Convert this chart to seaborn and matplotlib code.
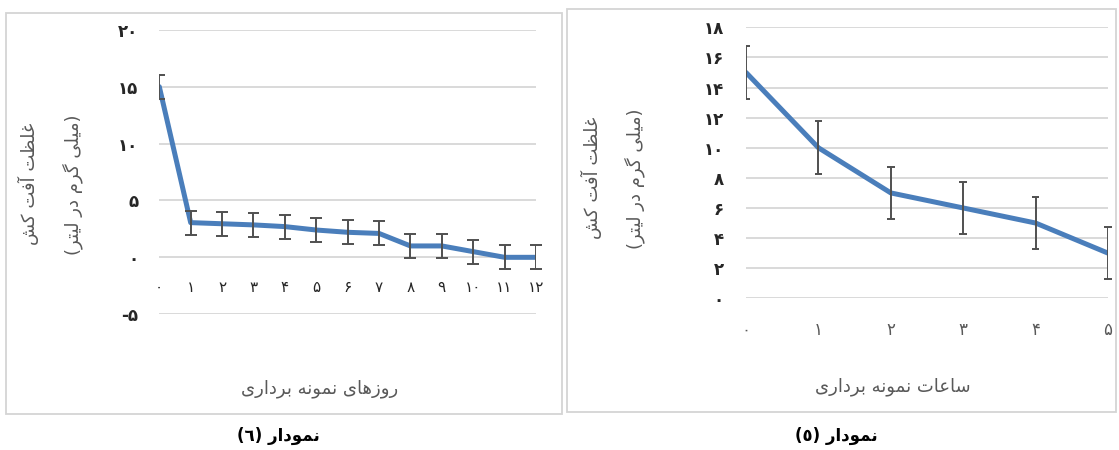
import matplotlib
matplotlib.use("Agg")
import matplotlib.pyplot as plt
import seaborn as sns
from matplotlib.patches import Rectangle

# ---------------- data ----------------
days = [0, 1, 2, 3, 4, 5, 6, 7, 8, 9, 10, 11, 12]
day_labels = ["۰", "۱", "۲", "۳", "۴", "۵", "۶", "۷", "۸", "۹", "۱۰", "۱۱", "۱۲"]
conc_days = [15.0, 3.05, 2.95, 2.85, 2.7, 2.4, 2.2, 2.1, 1.0, 1.0, 0.5, 0.0, 0.0]
err_days = [1.05, 1.05, 1.05, 1.05, 1.05, 1.05, 1.05, 1.05, 1.05, 1.05, 1.05, 1.05, 1.05]
days_yticks = [-5, 0, 5, 10, 15, 20]
days_ylabels = ["-۵", "۰", "۵", "۱۰", "۱۵", "۲۰"]

hours = [0, 1, 2, 3, 4, 5]
hour_labels = ["۰", "۱", "۲", "۳", "۴", "۵"]
conc_hours = [15.0, 10.0, 7.0, 6.0, 5.0, 3.0]
err_hours = [1.75, 1.75, 1.75, 1.75, 1.75, 1.75]
hours_yticks = [0, 2, 4, 6, 8, 10, 12, 14, 16, 18]
hours_ylabels = ["۰", "۲", "۴", "۶", "۸", "۱۰", "۱۲", "۱۴", "۱۶", "۱۸"]

ylabel_line1 = "غلظت آفت کش"
ylabel_line2 = "(میلی گرم در لیتر)"
xlabel_days = "روزهای نمونه برداری"
xlabel_hours = "ساعات نمونه برداری"
caption_days = "نمودار (٦)"
caption_hours = "نمودار (٥)"

# ---------------- Persian shaping (matplotlib draws glyphs left to right) ----------------
# forms: isolated, final, initial, medial (None for letters that join only to the right)
FORMS = {
    "ا": ("\uFE8D", "\uFE8E", None, None),
    "آ": ("\uFE81", "\uFE82", None, None),
    "ب": ("\uFE8F", "\uFE90", "\uFE91", "\uFE92"),
    "پ": ("\uFB56", "\uFB57", "\uFB58", "\uFB59"),
    "ت": ("\uFE95", "\uFE96", "\uFE97", "\uFE98"),
    "ث": ("\uFE99", "\uFE9A", "\uFE9B", "\uFE9C"),
    "ج": ("\uFE9D", "\uFE9E", "\uFE9F", "\uFEA0"),
    "چ": ("\uFB7A", "\uFB7B", "\uFB7C", "\uFB7D"),
    "ح": ("\uFEA1", "\uFEA2", "\uFEA3", "\uFEA4"),
    "خ": ("\uFEA5", "\uFEA6", "\uFEA7", "\uFEA8"),
    "د": ("\uFEA9", "\uFEAA", None, None),
    "ذ": ("\uFEAB", "\uFEAC", None, None),
    "ر": ("\uFEAD", "\uFEAE", None, None),
    "ز": ("\uFEAF", "\uFEB0", None, None),
    "ژ": ("\uFB8A", "\uFB8B", None, None),
    "س": ("\uFEB1", "\uFEB2", "\uFEB3", "\uFEB4"),
    "ش": ("\uFEB5", "\uFEB6", "\uFEB7", "\uFEB8"),
    "ص": ("\uFEB9", "\uFEBA", "\uFEBB", "\uFEBC"),
    "ض": ("\uFEBD", "\uFEBE", "\uFEBF", "\uFEC0"),
    "ط": ("\uFEC1", "\uFEC2", "\uFEC3", "\uFEC4"),
    "ظ": ("\uFEC5", "\uFEC6", "\uFEC7", "\uFEC8"),
    "ع": ("\uFEC9", "\uFECA", "\uFECB", "\uFECC"),
    "غ": ("\uFECD", "\uFECE", "\uFECF", "\uFED0"),
    "ف": ("\uFED1", "\uFED2", "\uFED3", "\uFED4"),
    "ق": ("\uFED5", "\uFED6", "\uFED7", "\uFED8"),
    "ک": ("\uFB8E", "\uFB8F", "\uFB90", "\uFB91"),
    "گ": ("\uFB92", "\uFB93", "\uFB94", "\uFB95"),
    "ل": ("\uFEDD", "\uFEDE", "\uFEDF", "\uFEE0"),
    "م": ("\uFEE1", "\uFEE2", "\uFEE3", "\uFEE4"),
    "ن": ("\uFEE5", "\uFEE6", "\uFEE7", "\uFEE8"),
    "ه": ("\uFEE9", "\uFEEA", "\uFEEB", "\uFEEC"),
    "و": ("\uFEED", "\uFEEE", None, None),
    "ی": ("\uFBFC", "\uFBFD", "\uFBFE", "\uFBFF"),
}


def shape(text):
    out = []
    for i, c in enumerate(text):
        if c not in FORMS:
            out.append(c)
            continue
        prev = text[i - 1] if i > 0 else ""
        nxt = text[i + 1] if i + 1 < len(text) else ""
        join_prev = prev in FORMS and FORMS[prev][2] is not None
        join_next = FORMS[c][2] is not None and nxt in FORMS
        iso, fin, ini, med = FORMS[c]
        if join_prev and join_next:
            out.append(med)
        elif join_prev:
            out.append(fin)
        elif join_next:
            out.append(ini)
        else:
            out.append(iso)
    visual = "".join(out)[::-1]
    return visual.translate(str.maketrans("()", ")("))


# ---------------- style ----------------
sns.set_theme(style="white")
plt.rcParams["font.family"] = ["DejaVu Sans"]

W, H = 1119, 450
fig = plt.figure(figsize=(W / 100, H / 100), dpi=100)
fig.patch.set_facecolor("white")

LINE = "#4a7ebb"
GRID = "#d9d9d9"
ERR = "#505050"
TICK_X = "#595959"
TICK_Y = "#262626"
TITLE = "#595959"


def px_axes(x0, x1, y0, y1):
    return fig.add_axes([x0 / W, 1 - y1 / H, (x1 - x0) / W, (y1 - y0) / H])


def frame(x0, x1, y0, y1):
    fig.patches.append(Rectangle((x0 / W, 1 - y1 / H), (x1 - x0) / W, (y1 - y0) / H,
                                 transform=fig.transFigure, fill=False,
                                 edgecolor="#d4d4d4", linewidth=1.3, zorder=0))


def style_axes(ax, yticks, ylabels, xticks, xlabels, ypad, xpad):
    ax.set_facecolor("none")
    for s in ax.spines.values():
        s.set_visible(False)
    ax.set_yticks(yticks)
    ax.set_yticklabels(ylabels, fontsize=12, fontweight="bold", color=TICK_Y)
    ax.set_xticks(xticks)
    ax.set_xticklabels(xlabels, fontsize=12, color=TICK_X)
    ax.tick_params(axis="y", length=0, pad=ypad)
    ax.tick_params(axis="x", length=0, pad=xpad)
    ax.grid(False)
    for v in yticks:
        ax.axhline(v, color=GRID, linewidth=1.4, zorder=1)
    ax.set_xlabel("")
    ax.set_ylabel("")


def error_bars(ax, x, y, err, cap_half):
    """Vertical error bars with flat caps; everything is cut at the left edge
    of the plot area (but not at the right one)."""
    ax.errorbar(x, y, yerr=err, fmt="none", ecolor=ERR, elinewidth=1.4,
                capsize=0, zorder=4)
    lo = [v - e for v, e in zip(y, err)]
    hi = [v + e for v, e in zip(y, err)]
    xs0 = [v - cap_half for v in x]
    xs1 = [v + cap_half for v in x]
    clip = Rectangle((0, -0.5), 1.1, 2.0, transform=ax.transAxes)
    for ends in (lo, hi):
        caps = ax.hlines(ends, xs0, xs1, colors=ERR, linewidth=1.4, zorder=4)
        caps.set_clip_path(clip)


# ---------------- left panel: days ----------------
frame(6, 562, 13, 414)
axL = px_axes(159.3, 536, 29.8, 314.2)
sns.lineplot(x=days, y=conc_days, ax=axL, color=LINE, linewidth=3.6,
             legend=False, zorder=3)
error_bars(axL, days, conc_days, err_days, 0.19)
axL.set_xlim(0, 12)
axL.set_ylim(-5, 20)
style_axes(axL, days_yticks, days_ylabels, days, day_labels, ypad=15, xpad=16)
axL.spines["bottom"].set_position(("data", 0))

fig.text(28 / W, 1 - 184 / H, shape(ylabel_line1), rotation=90, ha="center",
         va="center", fontsize=13, color=TITLE)
fig.text(73 / W, 1 - 185 / H, shape(ylabel_line2), rotation=90, ha="center",
         va="center", fontsize=13, color=TITLE)
fig.text(320 / W, 1 - 389 / H, shape(xlabel_days), ha="center", va="center",
         fontsize=13, color=TITLE)
fig.text(278 / W, 1 - 436 / H, shape(caption_days), ha="center", va="center",
         fontsize=12, fontweight="bold", color="black")

# ---------------- right panel: hours ----------------
frame(567, 1116, 9, 412)
axR = px_axes(746, 1108, 27.3, 298.3)
sns.lineplot(x=hours, y=conc_hours, ax=axR, color=LINE, linewidth=3.6,
             legend=False, zorder=3)
error_bars(axR, hours, conc_hours, err_hours, 0.052)
axR.set_xlim(0, 5)
axR.set_ylim(0, 18)
style_axes(axR, hours_yticks, hours_ylabels, hours, hour_labels, ypad=16, xpad=16)

fig.text(591 / W, 1 - 178 / H, shape(ylabel_line1), rotation=90, ha="center",
         va="center", fontsize=13, color=TITLE)
fig.text(635 / W, 1 - 179 / H, shape(ylabel_line2), rotation=90, ha="center",
         va="center", fontsize=13, color=TITLE)
fig.text(893 / W, 1 - 387 / H, shape(xlabel_hours), ha="center", va="center",
         fontsize=13, color=TITLE)
fig.text(836 / W, 1 - 436 / H, shape(caption_hours), ha="center", va="center",
         fontsize=12, fontweight="bold", color="black")

fig.savefig("out.png", dpi=100, facecolor="white")
